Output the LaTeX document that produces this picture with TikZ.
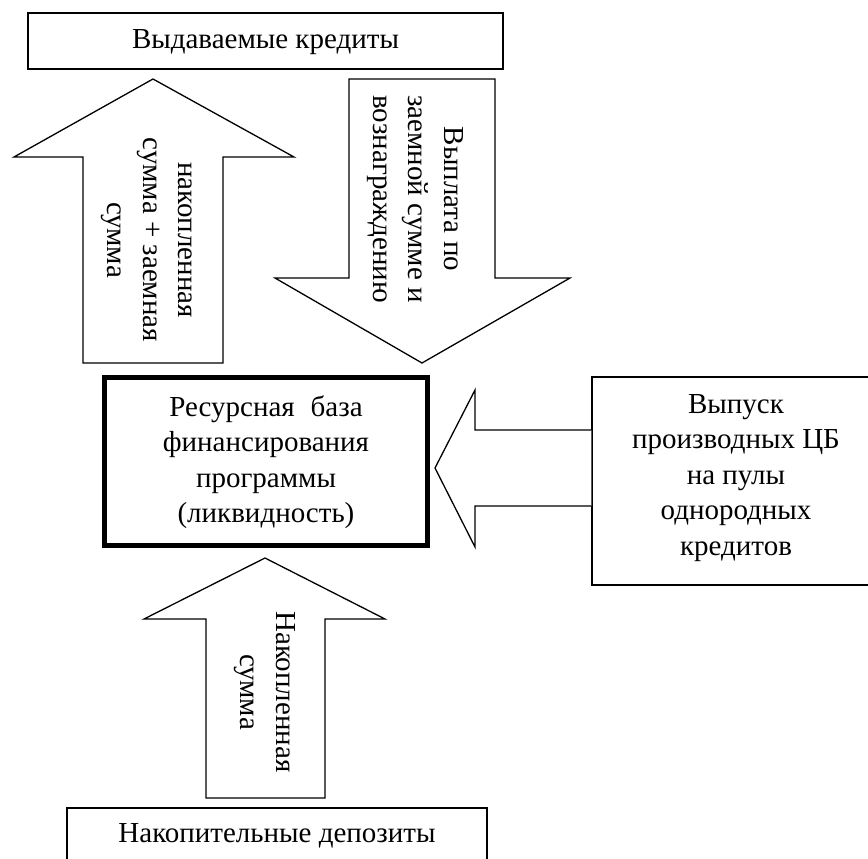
\documentclass[tikz,border=0pt]{standalone}
\usepackage{fontspec}
\setmainfont{Liberation Serif}
\begin{document}
\begin{tikzpicture}[x=1pt,y=-1pt,line join=miter,
  thinbox/.style={draw=black,line width=1.3pt,fill=white,inner sep=0pt},
  boldbox/.style={draw=black,line width=4.5pt,fill=white,inner sep=0pt},
  blockarrow/.style={draw=black,line width=1.3pt,fill=white},
  lbl/.style={font=\fontsize{29}{35.5}\selectfont,align=center,inner sep=0pt},
  vlbl/.style={lbl,rotate=-90}]
\useasboundingbox (0,0) rectangle (868,859);
\clip (0,0) rectangle (868,859);

% boxes
\node[thinbox,minimum width=475pt,minimum height=56pt] (top) at (265.5,41) {};
\node[lbl] (toptext) at (265.5,42) {Выдаваемые кредиты};

\node[boldbox,minimum width=323pt,minimum height=168pt] (res) at (266,461.5) {};
\node[lbl] (restext) at (266,462) {Ресурсная\hspace{0.55em}база\\финансирования\\программы\\(ликвидность)};

\node[thinbox,minimum width=288pt,minimum height=208pt] (cb) at (736,481) {};
\node[lbl] (cbtext) at (736,478) {Выпуск\\производных ЦБ\\на пулы\\однородных\\кредитов};

\node[thinbox,minimum width=420pt,minimum height=80pt] (dep) at (277,848) {};
\node[lbl] (deptext) at (277,836) {Накопительные депозиты};

% block arrows
\draw[blockarrow] (83,363) -- (83,157) -- (14,157) -- (153,79) -- (294,157)
  -- (223,157) -- (223,363) -- cycle;
\node[vlbl] (upl) at (147,240) {накопленная\\сумма + заемная\\сумма};

\draw[blockarrow] (349,79) -- (495,79) -- (495,278) -- (570,278) -- (422,363)
  -- (275,278) -- (349,278) -- cycle;
\node[vlbl] (down) at (415,199) {Выплата по\\заемной сумме и\\вознаграждению};

\draw[blockarrow] (cb.west |- 0,430) -- (475,430) -- (475,390) -- (435,468)
  -- (475,547) -- (475,506) -- (cb.west |- 0,506);

\draw[blockarrow] (206,798) -- (206,619) -- (144,619) -- (265,558) -- (385,619)
  -- (325,619) -- (325,798) -- cycle;
\node[vlbl] (upb) at (265,692) {Накопленная\\сумма};
\end{tikzpicture}
\end{document}
